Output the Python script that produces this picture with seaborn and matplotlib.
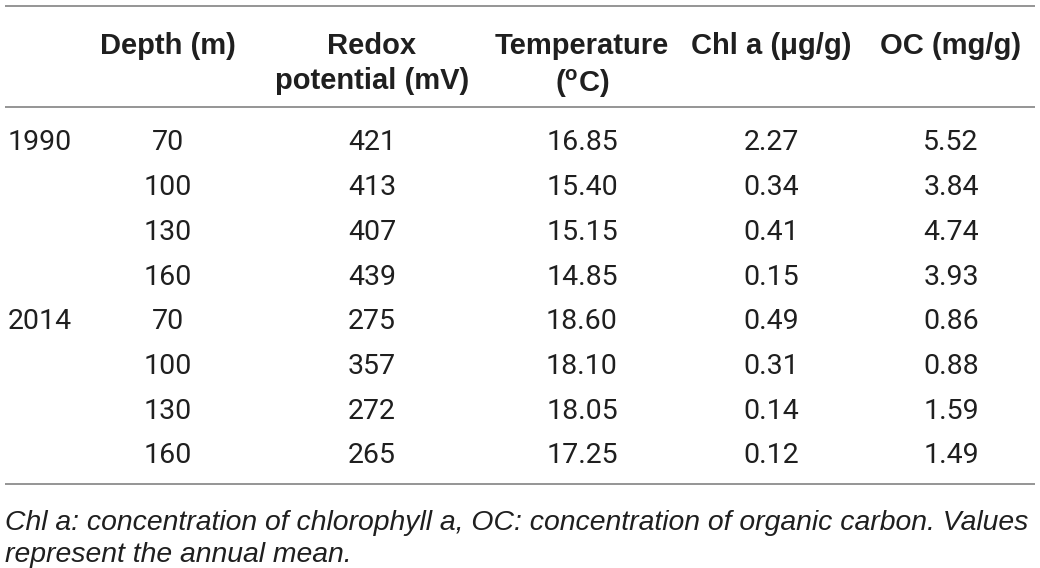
import matplotlib
matplotlib.use("Agg")
import matplotlib.pyplot as plt
import seaborn as sns

sns.set_theme(style="white")
plt.rcParams['font.family'] = ['Liberation Sans', 'DejaVu Sans']
plt.rcParams['mathtext.fontset'] = 'custom'
plt.rcParams['mathtext.rm'] = 'Liberation Sans'
plt.rcParams['mathtext.bf'] = 'Liberation Sans:bold'

# table content
headers = ["", "Depth (m)", "Redox\npotential (mV)", "Temperature\n($\\mathbf{^{o}}$C)",
           "Chl a (\u03bcg/g)", "OC (mg/g)"]
years = ["1990", "", "", "", "2014", "", "", ""]
depth = ["70", "100", "130", "160", "70", "100", "130", "160"]
redox = ["421", "413", "407", "439", "275", "357", "272", "265"]
temperature = ["16.85", "15.40", "15.15", "14.85", "18.60", "18.10", "18.05", "17.25"]
chl_a = ["2.27", "0.34", "0.41", "0.15", "0.49", "0.31", "0.14", "0.12"]
oc = ["5.52", "3.84", "4.74", "3.93", "0.86", "0.88", "1.59", "1.49"]
caption = ("Chl a: concentration of chlorophyll a, OC: concentration of organic carbon. Values\n"
           "represent the annual mean.")

# layout in pixels
col_x = [8, 168, 372, 582, 771, 951]
row0_y = 140
row_step = 44.7
line_col = "#8c8c8c"
txt_col = "#1f1f1f"

fig = plt.figure(figsize=(10.4, 5.68), dpi=100)
ax = fig.add_axes([0, 0, 1, 1])
ax.set_xlim(0, 1040)
ax.set_ylim(568, 0)
ax.axis("off")

for y in [6, 107, 484]:
    ax.plot([5, 1035], [y, y], color=line_col, lw=1.3, solid_capstyle="butt")

for i, h in enumerate(headers):
    if not h:
        continue
    ax.text(col_x[i], 32, h, ha="center", va="top", fontsize=21, fontweight="bold",
            color=txt_col, linespacing=1.3, multialignment="center")

columns = [years, depth, redox, temperature, chl_a, oc]
for j, col in enumerate(columns):
    for i, val in enumerate(col):
        y = row0_y + i * row_step
        ha = "left" if j == 0 else "center"
        ax.text(col_x[j], y, val, ha=ha, va="center_baseline", fontsize=20.5,
                color=txt_col, family=['Roboto', 'Liberation Sans'])

ax.text(5, 510, caption, ha="left", va="top", fontsize=20.4, style="italic",
        color=txt_col, linespacing=1.3, family=['Liberation Sans'])

fig.savefig("out.png", dpi=100)
